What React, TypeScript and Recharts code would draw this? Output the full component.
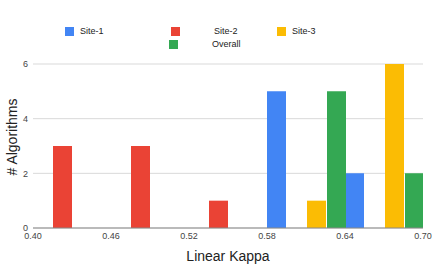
import React from "react";
import { BarChart, Bar, XAxis, YAxis, CartesianGrid } from "recharts";

// bin centres (kappa) and counts per series
const binCenters = [0.43, 0.49, 0.55, 0.61, 0.67];
const site1 = [0, 0, 0, 5, 2];
const site2 = [3, 3, 1, 0, 0];
const site3 = [0, 0, 0, 1, 6];
const overall = [0, 0, 0, 5, 2];

const xTicks = [0.4, 0.46, 0.52, 0.58, 0.64, 0.7];
const yTicks = [0, 2, 4, 6];

const series = [
  { key: "site1", name: "Site-1", color: "#4285F4" },
  { key: "site2", name: "Site-2", color: "#EA4335" },
  { key: "site3", name: "Site-3", color: "#FBBC04" },
  { key: "overall", name: "Overall", color: "#34A853" },
];

// legend slots, mimicking the odd spacing of the source
const legendPos = [
  { sq: 65, txt: 80, top: 27 },
  { sq: 171, txt: 214, top: 27 },
  { sq: 277, txt: 292, top: 27 },
  { sq: 169, txt: 212, top: 40 },
];

const font = "Arial, 'Liberation Sans', sans-serif";

const data = binCenters.map((x, i) => ({
  x,
  site1: site1[i],
  site2: site2[i],
  site3: site3[i],
  overall: overall[i],
}));

const tickStyle = { fill: "#444", fontSize: 9, fontFamily: font };

export default function App() {
  return (
    <div style={{ position: "absolute", left: 0, top: 0, width: 437, height: 270, background: "#fff" }}>
      <BarChart
        width={437}
        height={270}
        data={data}
        margin={{ top: 64, right: 14, bottom: 0, left: 0 }}
        barCategoryGap={0}
        barGap={1}
      >
        <CartesianGrid vertical={false} stroke="#d9d9d9" />
        <XAxis
          dataKey="x"
          type="number"
          domain={[0.4, 0.7]}
          ticks={xTicks}
          interval={0}
          allowDataOverflow
          tickFormatter={(v: number) => v.toFixed(2)}
          tick={tickStyle}
          tickLine={false}
          tickSize={0}
          tickMargin={5}
          stroke="#888"
          height={42}
          label={{
            value: "Linear Kappa",
            position: "insideBottom",
            offset: 9,
            fill: "#222",
            fontSize: 14,
            fontFamily: font,
          }}
        />
        <YAxis
          domain={[0, 6]}
          ticks={yTicks}
          width={33}
          axisLine={false}
          tickLine={false}
          tickSize={0}
          tickMargin={5}
          tick={tickStyle}
          label={{
            content: (props: any) => {
              const vb = props.viewBox;
              const cx = 12;
              const cy = vb.y + vb.height / 2 - 9;
              return (
                <text
                  x={cx}
                  y={cy}
                  transform={`rotate(-90, ${cx}, ${cy})`}
                  textAnchor="middle"
                  dominantBaseline="central"
                  fill="#222"
                  fontSize={14}
                  fontFamily={font}
                >
                  # Algorithms
                </text>
              );
            },
          }}
        />
        {series.map((s) => (
          <Bar key={s.key} dataKey={s.key} name={s.name} fill={s.color} isAnimationActive={false} />
        ))}
      </BarChart>
      {series.map((s, i) => (
        <React.Fragment key={s.key}>
          <div
            style={{
              position: "absolute",
              left: legendPos[i].sq,
              top: legendPos[i].top,
              width: 9,
              height: 9,
              background: s.color,
            }}
          />
          <div
            style={{
              position: "absolute",
              left: legendPos[i].txt,
              top: legendPos[i].top - 1,
              fontSize: 9,
              lineHeight: "11px",
              fontFamily: font,
              color: "#222",
            }}
          >
            {s.name}
          </div>
        </React.Fragment>
      ))}
    </div>
  );
}
